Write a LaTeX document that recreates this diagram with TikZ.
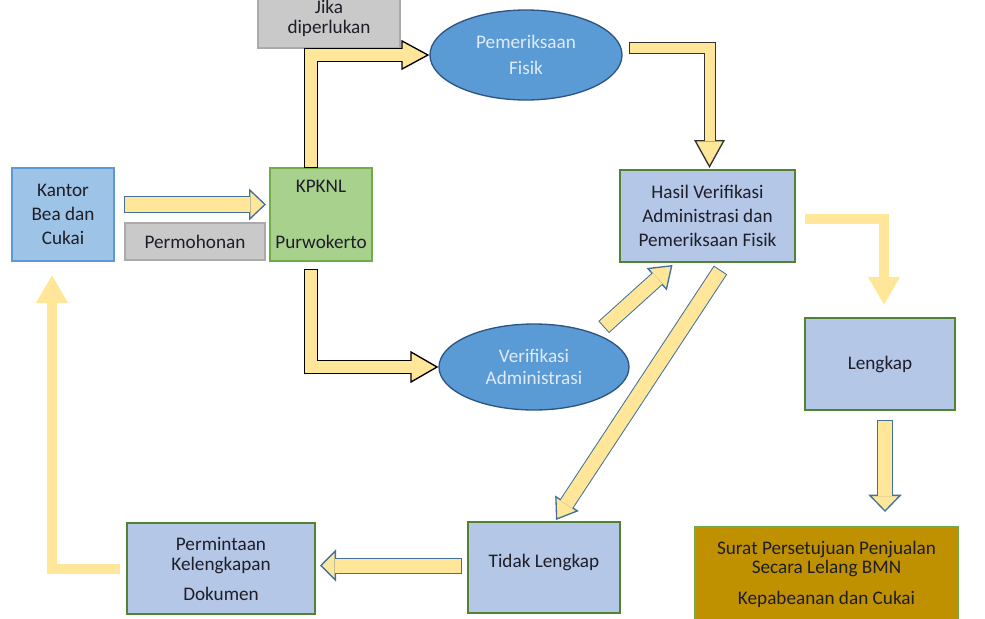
\documentclass[tikz,border=0pt]{standalone}
\usepackage{fontspec}
\setmainfont{Carlito}
\usetikzlibrary{arrows.meta,calc,shapes.geometric,positioning}
\definecolor{kantorfill}{RGB}{157,195,230}
\definecolor{kantorline}{RGB}{91,155,213}
\definecolor{kpknlfill}{RGB}{169,209,142}
\definecolor{kpknlline}{RGB}{112,173,71}
\definecolor{lavfill}{RGB}{180,199,231}
\definecolor{lavline}{RGB}{84,130,53}
\definecolor{greyfill}{RGB}{201,201,201}
\definecolor{greyline}{RGB}{170,170,170}
\definecolor{ovalfill}{RGB}{91,155,213}
\definecolor{ovalline}{RGB}{46,84,132}
\definecolor{ovaltext}{RGB}{222,235,247}
\definecolor{goldfill}{RGB}{191,144,0}
\definecolor{arrowfill}{RGB}{255,230,153}
\definecolor{arrowline}{RGB}{65,113,156}
\definecolor{boxtext}{RGB}{30,30,40}

\tikzset{
  box/.style={draw, inner sep=0pt, outer sep=0pt, align=center, text=boxtext,
    font=\fontsize{14.4}{18}\selectfont},
  bluebox/.style={box, fill=kantorfill, draw=kantorline, line width=1pt,
    minimum width=76.5pt, minimum height=69.75pt},
  greenbox/.style={box, fill=kpknlfill, draw=kpknlline, line width=1pt,
    minimum width=76.5pt, minimum height=69.75pt},
  greybox/.style={box, fill=greyfill, draw=greyline, line width=0.8pt},
  lavbox/.style={box, fill=lavfill, draw=lavline, line width=1.8pt},
  goldbox/.style={box, fill=goldfill, draw=kpknlline, line width=1.5pt},
  oval/.style={ellipse, draw=ovalline, fill=ovalfill, line width=1pt, inner sep=0pt,
    align=center, text=ovaltext},
  blockarrow/.style n args={4}{draw=#1, line width=#2+1.5pt,
    -{Triangle[length=#4, width=#3, line width=1pt, fill=arrowfill]},
    postaction={draw=arrowfill, line width=#2, -, shorten >=#4-1pt, shorten <=0.75pt}},
  palearrow/.style n args={3}{draw=arrowfill, line width=#1,
    -{Triangle[length=#3, width=#2]}}
}

\begin{document}
\begin{tikzpicture}[x=0.75pt, y=-0.75pt]
  \useasboundingbox (0,0) rectangle (985,618);

  % left side
  \node[bluebox] (kantor) at (63,214.5) {Kantor\\Bea dan\\Cukai};
  \node[greenbox] (kpknl) at (321,214.5) {KPKNL\\[24pt]Purwokerto};
  \node[greybox, minimum width=105pt, minimum height=27.75pt] (mohon) at (195,241.5) {Permohonan};
  \node[greybox, minimum width=106.5pt, minimum height=45pt,
    font=\fontsize{14.4}{15}\selectfont] (jika) at (329,18) {Jika\\diperlukan};

  % checks
  \node[oval, minimum width=144pt, minimum height=67.5pt,
    font=\fontsize{14.4}{20}\selectfont] (fisik) at (526,55) {Pemeriksaan\\Fisik};
  \node[oval, minimum width=142.5pt, minimum height=64.5pt,
    font=\fontsize{14.4}{17}\selectfont] (verif) at (534,367) {Verifikasi\\Administrasi};

  % results
  \node[lavbox, minimum width=131.25pt, minimum height=69pt] (hasil) at (707.5,216)
    {Hasil Verifikasi\\Administrasi dan\\Pemeriksaan Fisik};
  \node[lavbox, minimum width=112.5pt, minimum height=69pt] (lengkap) at (880,364) {Lengkap};
  \node[lavbox, minimum width=114pt, minimum height=68.25pt] (tidak) at (544,567.5) {Tidak Lengkap\\[-8pt]\mbox{}};
  \node[lavbox, minimum width=141pt, minimum height=68.25pt,
    font=\fontsize{14.4}{15}\selectfont] (minta) at (221,568.5)
    {Permintaan\\Kelengkapan\\[7.5pt]Dokumen};
  \node[goldbox, minimum width=197.25pt, minimum height=78pt,
    font=\fontsize{14.4}{14.25}\selectfont] (surat) at (826.5,579)
    {Surat Persetujuan Penjualan\\Secara Lelang BMN\\[9pt]Kepabeanan dan Cukai\\[-5pt]\mbox{}};

  % arrows
  \draw[blockarrow={arrowline}{11.25pt}{24pt}{12.75pt}] ($(kantor.east)+(10,-10)$) -- ($(kpknl.west)+(-4,-10)$);
  \draw[blockarrow={black}{9pt}{22.5pt}{21pt}] ($(kpknl.north)+(-10,0)$) |- (fisik.west);
  \draw[blockarrow={black}{9pt}{24pt}{21pt}] ($(kpknl.south)+(-10,8)$) |- (verif.west);
  \draw[blockarrow={black!80}{7.5pt}{23pt}{21pt}] ($(fisik.east)+(6,-7)$) -| ($(hasil.north)+(2,-2)$);
  \draw[palearrow={7pt}{22.5pt}{21pt}] ($(hasil.east)+(10,3)$) -| ($(lengkap.north)+(4,-13)$);
  \draw[blockarrow={arrowline}{10.5pt}{25pt}{13pt}] ($(lengkap.south)+(5,10)$) -- ($(lengkap.south |- surat.north)+(5,-15)$);
  \draw[blockarrow={arrowline}{10.5pt}{22.5pt}{16pt}] ($(verif.north east)+(2,-9)$) -- ($(hasil.south)+(-35,3)$);
  \draw[blockarrow={arrowline}{10.5pt}{21pt}{15pt}] ($(hasil.south)+(13,8)$) -- ($(tidak.north)+(12,-2)$);
  \draw[blockarrow={arrowline}{10.5pt}{24pt}{12pt}] ($(tidak.west)+(-6,-2)$) -- ($(minta.east)+(5,-3)$);
  \draw[palearrow={7.5pt}{22.5pt}{21pt}] ($(minta.west)+(-7,0)$) -| ($(kantor.south)+(-11,14)$);
\end{tikzpicture}
\end{document}
